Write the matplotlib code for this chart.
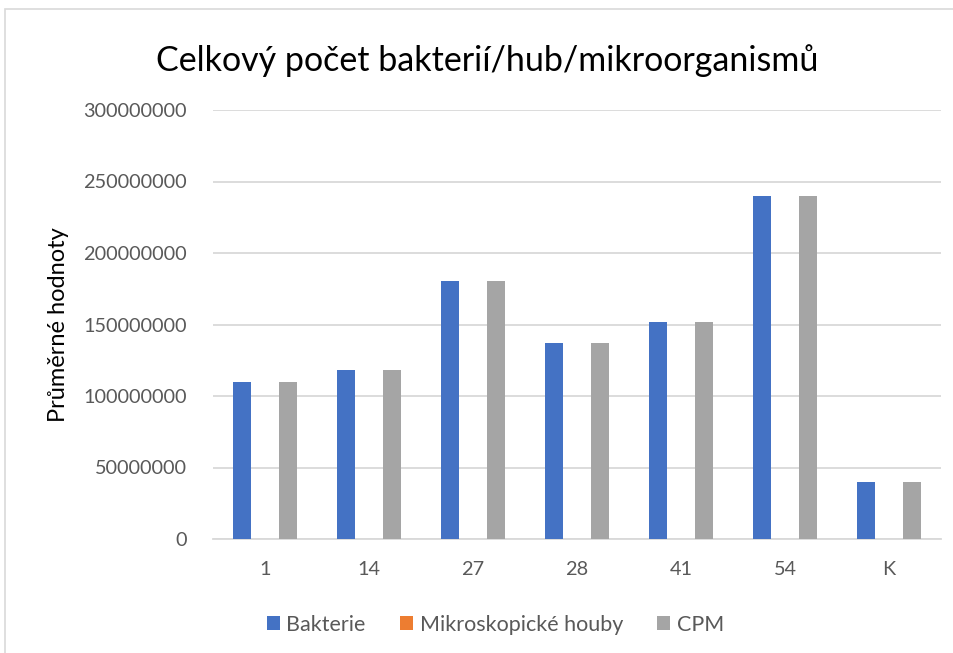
import matplotlib.pyplot as plt
import numpy as np
from matplotlib.patches import Rectangle

# data
categories = ["1", "14", "27", "28", "41", "54", "K"]
bakterie = [109800000, 118300000, 180200000, 136900000, 151500000, 239700000, 39900000]
houby = [150000, 120000, 200000, 130000, 170000, 250000, 60000]
cpm = [109950000, 118420000, 180400000, 137030000, 151670000, 239950000, 39960000]
series_names = ["Bakterie", "Mikroskopické houby", "CPM"]
colors = ["#4472C4", "#ED7D31", "#A5A5A5"]

plt.rcParams["font.family"] = ["Lato", "DejaVu Sans"]

fig = plt.figure(figsize=(9.54, 6.53), dpi=100)
fig.patches.append(Rectangle((5 / 954, -0.01), 1.0, 1 - 9 / 653 + 0.01,
                             transform=fig.transFigure, fill=False,
                             edgecolor="#d9d9d9", linewidth=1.2))
ax = fig.add_axes([213 / 954, 1 - 539 / 653, 728 / 954, 429 / 653])

x = np.arange(len(categories))
slot = 0.221
width = 0.178
for i, (vals, name, c) in enumerate(zip([bakterie, houby, cpm], series_names, colors)):
    ax.bar(x + (i - 1) * slot, vals, width, color=c, label=name, zorder=3)

ax.set_xlim(-0.5, len(categories) - 0.5)
ax.set_ylim(0, 300000000)
ax.set_yticks(np.arange(0, 300000001, 50000000))
ax.yaxis.set_major_formatter(plt.FuncFormatter(lambda v, p: f"{int(v)}"))
ax.set_xticks(x)
ax.set_xticklabels(categories)
ax.grid(axis="y", color="#d9d9d9", linewidth=1.3, zorder=0)
for s in ["top", "right", "left"]:
    ax.spines[s].set_visible(False)
ax.spines["bottom"].set_color("#d9d9d9")
ax.spines["bottom"].set_linewidth(1.3)
ax.tick_params(axis="both", length=0, labelsize=14.3, colors="#595959")
ax.tick_params(axis="y", pad=19)
ax.tick_params(axis="x", pad=16)

ax.set_ylabel("Průměrné hodnoty", fontsize=17, color="#000000", labelpad=10)
fig.text(0.511, 1 - 61 / 653, "Celkový počet bakterií/hub/mikroorganismů",
         ha="center", va="center", fontsize=24.5, color="#000000")

ax.legend(loc="center", bbox_to_anchor=(0.388, -0.2), ncol=3, frameon=False,
          fontsize=15.5, handlelength=0.6, handleheight=0.6, handletextpad=0.3,
          columnspacing=1.6, labelcolor="#595959")

fig.savefig("out.png", dpi=100)
